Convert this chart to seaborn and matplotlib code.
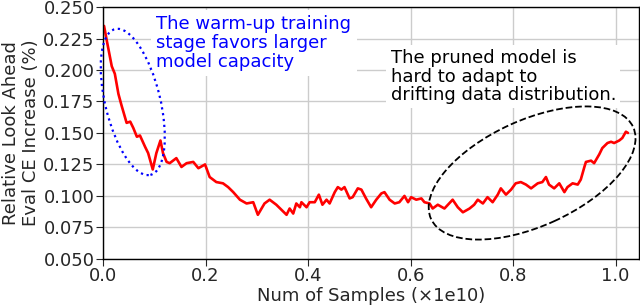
import numpy as np
import pandas as pd
import seaborn as sns
import matplotlib.pyplot as plt
from matplotlib.patches import Ellipse
from matplotlib import transforms

# ======================
# --- Data ---
# ======================
samples = [0.002, 0.007, 0.017, 0.023, 0.030, 0.036, 0.046, 0.053, 0.059, 0.066,
           0.072, 0.082, 0.088, 0.097, 0.104, 0.112, 0.117, 0.124, 0.130, 0.143,
           0.153, 0.163, 0.176, 0.186, 0.199, 0.208, 0.221, 0.234, 0.244, 0.254,
           0.267, 0.280, 0.293, 0.302, 0.315, 0.325, 0.338, 0.348, 0.358, 0.364,
           0.371, 0.377, 0.384, 0.387, 0.397, 0.403, 0.413, 0.421, 0.428, 0.436,
           0.442, 0.452, 0.458, 0.465, 0.471, 0.481, 0.487, 0.497, 0.504, 0.513,
           0.523, 0.533, 0.543, 0.549, 0.559, 0.569, 0.578, 0.588, 0.595, 0.601,
           0.611, 0.621, 0.627, 0.637, 0.643, 0.653, 0.666, 0.682, 0.692, 0.702,
           0.715, 0.724, 0.731, 0.741, 0.750, 0.760, 0.770, 0.776, 0.786, 0.796,
           0.805, 0.815, 0.825, 0.835, 0.848, 0.857, 0.864, 0.870, 0.880, 0.890,
           0.900, 0.906, 0.916, 0.926, 0.932, 0.939, 0.942, 0.952, 0.958, 0.968,
           0.974, 0.984, 0.991, 0.997, 1.007, 1.013, 1.020, 1.024]
ce_increase = [0.235, 0.224, 0.203, 0.197, 0.181, 0.172, 0.158, 0.159, 0.154, 0.147,
               0.148, 0.139, 0.134, 0.121, 0.134, 0.144, 0.134, 0.127, 0.126, 0.130,
               0.123, 0.126, 0.127, 0.122, 0.125, 0.115, 0.111, 0.110, 0.107, 0.103,
               0.097, 0.094, 0.095, 0.085, 0.094, 0.097, 0.093, 0.089, 0.085, 0.090,
               0.086, 0.094, 0.091, 0.095, 0.091, 0.095, 0.095, 0.101, 0.093, 0.097,
               0.094, 0.103, 0.107, 0.105, 0.107, 0.098, 0.099, 0.106, 0.105, 0.098,
               0.091, 0.097, 0.102, 0.103, 0.097, 0.094, 0.095, 0.100, 0.095, 0.099,
               0.097, 0.098, 0.095, 0.094, 0.090, 0.093, 0.090, 0.097, 0.091, 0.087,
               0.090, 0.093, 0.097, 0.094, 0.099, 0.095, 0.101, 0.106, 0.101, 0.105,
               0.110, 0.111, 0.109, 0.106, 0.110, 0.111, 0.115, 0.109, 0.106, 0.110,
               0.103, 0.107, 0.110, 0.109, 0.113, 0.123, 0.127, 0.128, 0.126, 0.133,
               0.138, 0.142, 0.143, 0.142, 0.144, 0.146, 0.151, 0.150]

x_ticks = [0.0, 0.2, 0.4, 0.6, 0.8, 1.0]
y_ticks = [0.050, 0.075, 0.100, 0.125, 0.150, 0.175, 0.200, 0.225, 0.250]

df = pd.DataFrame({'samples': samples, 'ce': ce_increase})

# ======================
# --- Plot ---
# ======================
sns.set_style('ticks')
plt.rcParams['font.family'] = ['DejaVu Sans']

fig = plt.figure(figsize=(6.4, 3.06), dpi=100)
ax = fig.add_axes([0.161, 0.154, 0.837, 0.823])

sns.lineplot(data=df, x='samples', y='ce', color='red', linewidth=1.9, ax=ax)

ax.set_xlim(0, 1.045)
ax.set_ylim(0.05, 0.25)
ax.set_xticks(x_ticks)
ax.set_yticks(y_ticks)
ax.set_xticklabels([f'{t:.1f}' for t in x_ticks])
ax.set_yticklabels([f'{t:.3f}' for t in y_ticks])
ax.tick_params(labelsize=13, direction='out', length=5, pad=1)
ax.grid(True, color='#cccccc', linewidth=1)
ax.set_axisbelow(True)
for s in ax.spines.values():
    s.set_color('black')
    s.set_linewidth(1)

ax.set_xlabel('Num of Samples (×1e10)', fontsize=13, labelpad=1)
ax.set_ylabel('Relative Look Ahead\nEval CE Increase (%)', fontsize=13, labelpad=2)

# annotations: ellipses sized in inches around a data-space centre
blue_trans = fig.dpi_scale_trans + transforms.ScaledTranslation(0.058, 0.1746, ax.transData)
ax.add_patch(Ellipse((0, 0), 0.55, 1.5, angle=13.6, transform=blue_trans, zorder=4,
                     fill=False, edgecolor='blue', linestyle=':', linewidth=1.6, clip_on=False))
black_trans = fig.dpi_scale_trans + transforms.ScaledTranslation(0.837, 0.1182, ax.transData)
ax.add_patch(Ellipse((0, 0), 2.22, 1.06, angle=24.4, transform=black_trans, zorder=4,
                     fill=False, edgecolor='black', linestyle='--', linewidth=1.3, clip_on=False))

ax.text(0.104, 0.2435, 'The warm-up training\nstage favors larger\nmodel capacity',
        color='blue', fontsize=13, va='top', ha='left', linespacing=1.05,
        bbox=dict(facecolor='white', edgecolor='none', pad=4))
ax.text(0.561, 0.2165, 'The pruned model is\nhard to adapt to\ndrifting data distribution.',
        color='black', fontsize=13, va='top', ha='left', linespacing=1.02,
        bbox=dict(facecolor='white', edgecolor='none', pad=3))

plt.savefig('out.png', dpi=100)
